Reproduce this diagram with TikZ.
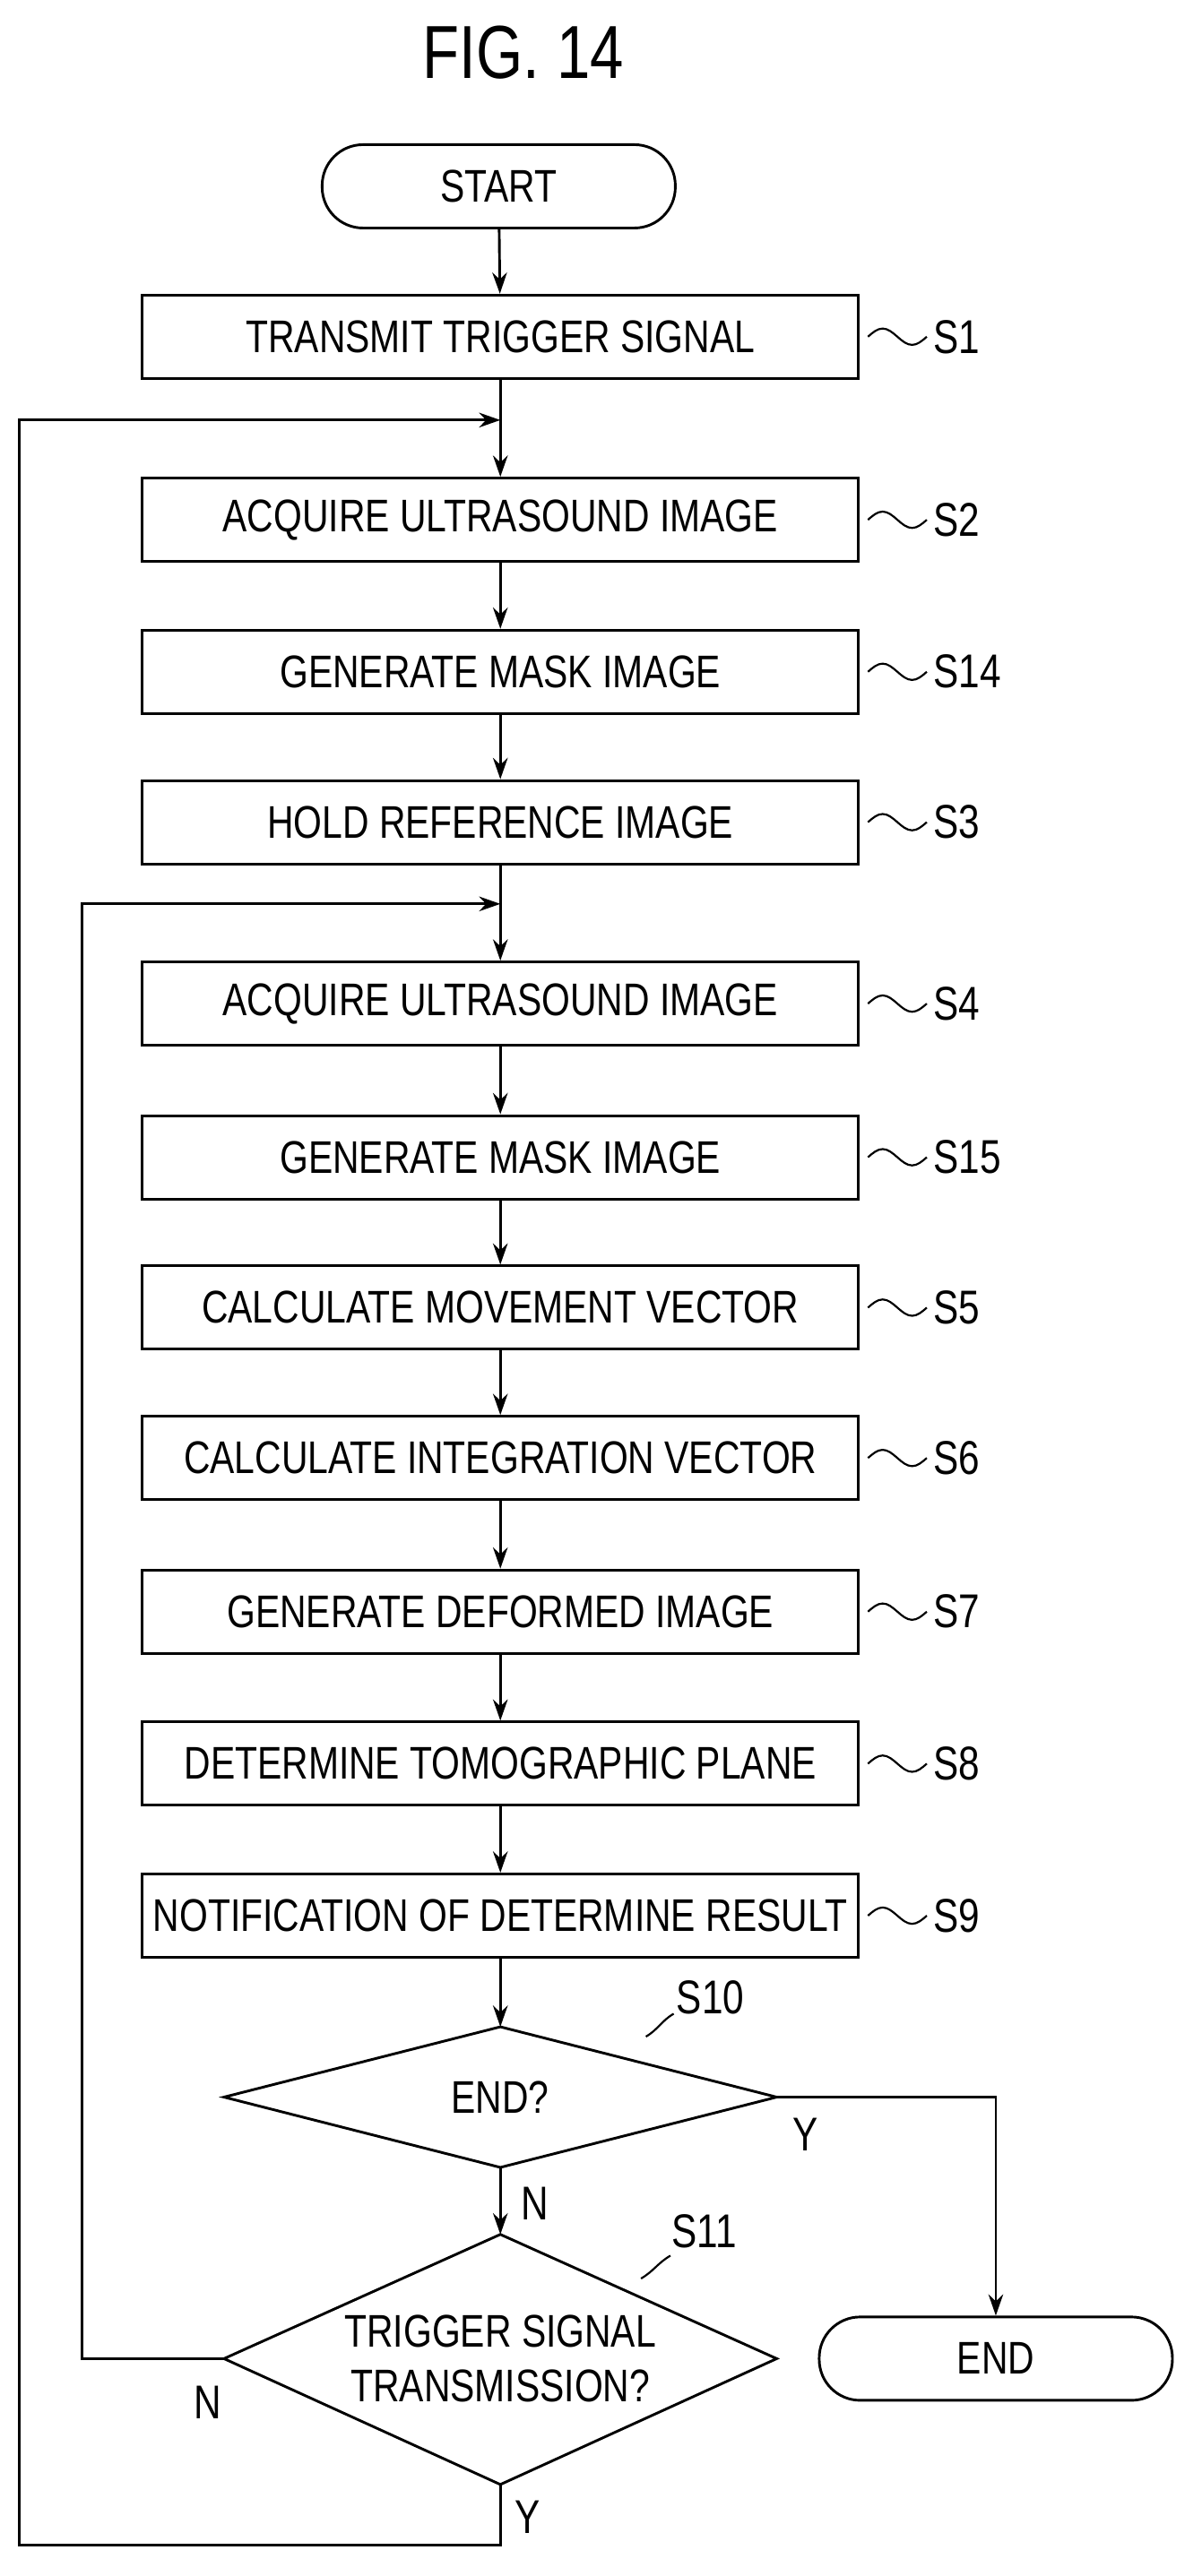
\documentclass[tikz,border=0pt]{standalone}
\usepackage{fontspec}
\setmainfont{Liberation Sans}
\usetikzlibrary{shapes.geometric,arrows.meta}
\newcommand{\cnd}[1]{\scalebox{0.8}[1]{#1}}
\begin{document}
\begin{tikzpicture}[x=1pt,y=-1pt,line width=1.6pt,
 box/.style={draw,minimum width=438pt,minimum height=51pt,inner sep=0pt,font=\fontsize{28}{30}\selectfont},
 term/.style={draw,rounded corners=25pt,minimum width=216pt,minimum height=51pt,font=\fontsize{28}{30}\selectfont},
 txt/.style={font=\fontsize{28}{33}\selectfont,align=center,inner sep=0pt},
 lab/.style={anchor=west,font=\fontsize{29}{30}\selectfont,inner sep=0pt},
 arr/.style={-{Stealth[length=13pt,width=9pt]}}]
\useasboundingbox (0,0) rectangle (735,1576);
\node[font=\fontsize{46}{48}\selectfont] (title) at (320,32) {\cnd{FIG. 14}};
\node[term] (start) at (305,114) {\cnd{START}};
\foreach \n/\y/\t/\s in {s1/206/TRANSMIT TRIGGER SIGNAL/S1, s2/318/ACQUIRE ULTRASOUND IMAGE/S2, s14/411/GENERATE MASK IMAGE/S14, s3/503/HOLD REFERENCE IMAGE/S3, s4/614/ACQUIRE ULTRASOUND IMAGE/S4, s15/708/GENERATE MASK IMAGE/S15, s5/800/CALCULATE MOVEMENT VECTOR/S5, s6/892/CALCULATE INTEGRATION VECTOR/S6, s7/986/GENERATE DEFORMED IMAGE/S7, s8/1079/DETERMINE TOMOGRAPHIC PLANE/S8, s9/1172/NOTIFICATION OF DETERMINE RESULT/S9}{
 \node[box] (\n) at (306,\y) {\cnd{\t}};
 \draw[line width=1.2pt] (\n.east) ++(5,0) sin ++(9,-5) cos ++(9,5) sin ++(9,5) cos ++(9,-5);
 \node[lab] (l\n) at (570,\y) {\cnd{\s}};
}
% diamond S10
\coordinate (s10n) at (306,1240); \coordinate (s10e) at (475,1283);
\coordinate (s10s) at (306,1326); \coordinate (s10w) at (137,1283);
\draw (s10n) -- (s10e) -- (s10s) -- (s10w) -- cycle;
\node[txt] (t10) at (306,1283) {\cnd{END?}};
% diamond S11
\coordinate (s11n) at (306,1367); \coordinate (s11e) at (475,1443);
\coordinate (s11s) at (306,1520); \coordinate (s11w) at (137,1443);
\draw (s11n) -- (s11e) -- (s11s) -- (s11w) -- cycle;
\node[txt] (t11) at (306,1443) {\cnd{TRIGGER SIGNAL}\\\cnd{TRANSMISSION?}};
\node[term] (end) at (609,1443) {\cnd{END}};
\node[lab] (l10) at (413,1222) {\cnd{S10}};
\node[lab] (l11) at (410,1365) {\cnd{S11}};
\draw[line width=1.2pt] (395,1246) to[out=30,in=-150] (412,1232);
\draw[line width=1.2pt] (392,1394) to[out=30,in=-150] (410,1380);
\node[lab] (ly1) at (484,1306) {\cnd{Y}};
\node[lab] (ln1) at (318,1348) {\cnd{N}};
\node[lab] (ln2) at (118,1470) {\cnd{N}};
\node[lab] (ly2) at (314,1540) {\cnd{Y}};
\draw[arr] (start) -- (s1);
\draw[arr] (s1) -- (s2);
\draw[arr] (s2) -- (s14);
\draw[arr] (s14) -- (s3);
\draw[arr] (s3) -- (s4);
\draw[arr] (s4) -- (s15);
\draw[arr] (s15) -- (s5);
\draw[arr] (s5) -- (s6);
\draw[arr] (s6) -- (s7);
\draw[arr] (s7) -- (s8);
\draw[arr] (s8) -- (s9);
\draw[arr] (s9) -- (s10n);
\draw[arr] (s10s) -- (s11n);
\draw[arr] (s10e) -| (end.north);
\draw[arr] (s11w) -- (50,1443) -- (50,553) -- (306,553);
\draw[arr] (s11s) -- (306,1557) -- (12,1557) -- (12,257) -- (306,257);
\end{tikzpicture}
\end{document}
